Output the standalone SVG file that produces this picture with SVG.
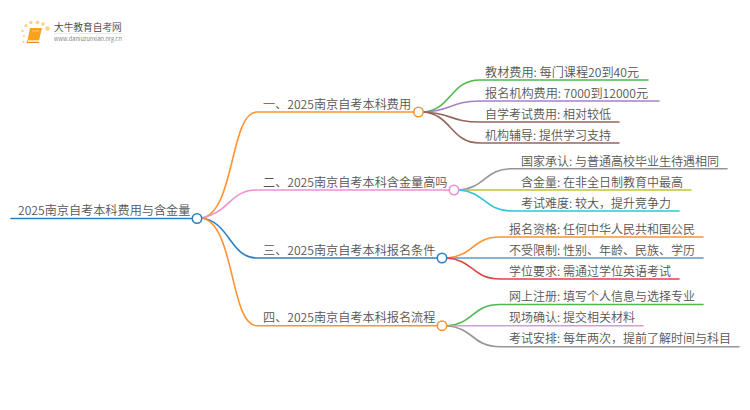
<svg xmlns="http://www.w3.org/2000/svg" width="750" height="410" viewBox="0 0 750 410">
<style>
text{font-family:"Noto Sans CJK SC","Noto Sans",sans-serif;font-size:12px;fill:#555;font-weight:350}
text.d{font-size:12.150px}
path.c{fill:none;stroke-width:1.600;stroke-linecap:round}
circle.n{fill:#fff;stroke-width:1.600}
</style>
<rect width="750" height="410" fill="#fff"/>
<g id="logo">
<g fill="#fbd27a"><circle cx="47.500" cy="28.500" r="2.200"/><circle cx="43" cy="24" r="1.800"/><circle cx="37.500" cy="22.500" r="1.800"/><circle cx="31" cy="22.500" r="1.700"/><circle cx="26" cy="25.500" r="1.500"/><circle cx="22.500" cy="31" r="1.200"/><circle cx="24" cy="36" r="1"/><circle cx="23.500" cy="42" r="0.900"/></g>
<path d="M30 28h12l-3 12.500H27.500z" fill="#f9a21c"/><path d="M27.500 40.500h11.500l-0.500 2H28z" fill="#fbe3b8"/><path d="M27 42.500h12M27.500 40.500L27 42.500" stroke="#e87f10" stroke-width="0.900" fill="none"/>
<path d="M32 31h7" stroke="#fdd88a" stroke-width="0.800"/>
<text x="54" y="30.500" style="font-size:9.700px;fill:#444">大牛教育自考网</text>
<path d="M54 33.500H122" stroke="#ddd" stroke-width="0.600"/>
<text x="54" y="41" style="font-size:5.700px;fill:#777">www.daniuzuoxiao.org.cn</text>
</g>
<g id="connectors">
<path class="c" stroke="#2f7fc1" d="M11 218.500H192"/>
<path class="c" stroke="#ff9331" d="M202 218C235 212 230 112 257 112H414"/>
<path class="c" stroke="#ef8fd1" d="M202 218C230 212 230 190 257 190H449"/>
<path class="c" stroke="#2f7fc1" d="M202 218C230 222 230 258 257 258H437"/>
<path class="c" stroke="#ff9331" d="M202 218C235 224 230 325.700 257 325.700H437"/>
<path class="c" stroke="#4fb84f" d="M423 112C452 110 450 80 480 80H648"/>
<path class="c" stroke="#a77fcb" d="M423 112C452 111 450 101 480 101H659"/>
<path class="c" stroke="#96665c" d="M423 112C452 113 450 122 480 122H619"/>
<path class="c" stroke="#96665c" d="M423 112C452 114 450 143 480 143H619"/>
<path class="c" stroke="#969696" d="M459 190C486 188 484 168.700 512 168.700H727"/>
<path class="c" stroke="#c3c332" d="M459 190H691"/>
<path class="c" stroke="#2fc5d6" d="M459 190C486 192 484 211 512 211H679"/>
<path class="c" stroke="#ff9331" d="M447 258C474 256 472 237 500 237H703"/>
<path class="c" stroke="#5b9bd0" d="M447 258H703"/>
<path class="c" stroke="#dc4545" d="M447 258C474 260 472 279 500 279H679"/>
<path class="c" stroke="#4fb84f" d="M447 325.700C474 324 472 304.500 500 304.500H703"/>
<path class="c" stroke="#ef8fd1" d="M447 325.700H643"/>
<path class="c" stroke="#969696" d="M447 325.700C474 328 472 346.700 500 346.700H739"/>
</g>
<g id="root"><text class="d" x="18" y="214.500">2025南京自考本科费用与含金量</text><circle class="n" cx="197" cy="218.500" r="4.700" stroke="#2f7fc1"/></g>
<g id="n1"><text class="d" x="263" y="108.500">一、2025南京自考本科费用</text><circle class="n" cx="418.500" cy="112" r="4.700" stroke="#ff9331"/></g>
<g id="n2"><text class="d" x="263" y="186.500">二、2025南京自考本科含金量高吗</text><circle class="n" cx="454" cy="190" r="4.700" stroke="#ef8fd1"/></g>
<g id="n3"><text class="d" x="263" y="254.500">三、2025南京自考本科报名条件</text><circle class="n" cx="442" cy="258" r="4.700" stroke="#2f7fc1"/></g>
<g id="n4"><text class="d" x="263" y="322">四、2025南京自考本科报名流程</text><circle class="n" cx="442" cy="325.700" r="4.700" stroke="#ff9331"/></g>
<g id="n1a"><text class="d" x="485" y="76.500">教材费用: 每门课程20到40元</text></g>
<g id="n1b"><text class="d" x="485" y="97.500">报名机构费用: 7000到12000元</text></g>
<g id="n1c"><text x="485" y="118.500">自学考试费用: 相对较低</text></g>
<g id="n1d"><text x="485" y="139.500">机构辅导: 提供学习支持</text></g>
<g id="n2a"><text x="521" y="165.500">国家承认: 与普通高校毕业生待遇相同</text></g>
<g id="n2b"><text x="521" y="186.500">含金量: 在非全日制教育中最高</text></g>
<g id="n2c"><text x="521" y="207.500">考试难度: 较大，提升竞争力</text></g>
<g id="n3a"><text x="509" y="233.500">报名资格: 任何中华人民共和国公民</text></g>
<g id="n3b"><text x="509" y="254.500">不受限制: 性别、年龄、民族、学历</text></g>
<g id="n3c"><text x="509" y="275.500">学位要求: 需通过学位英语考试</text></g>
<g id="n4a"><text x="509" y="300.500">网上注册: 填写个人信息与选择专业</text></g>
<g id="n4b"><text x="509" y="322">现场确认: 提交相关材料</text></g>
<g id="n4c"><text x="509" y="343">考试安排: 每年两次，提前了解时间与科目</text></g>
</svg>
